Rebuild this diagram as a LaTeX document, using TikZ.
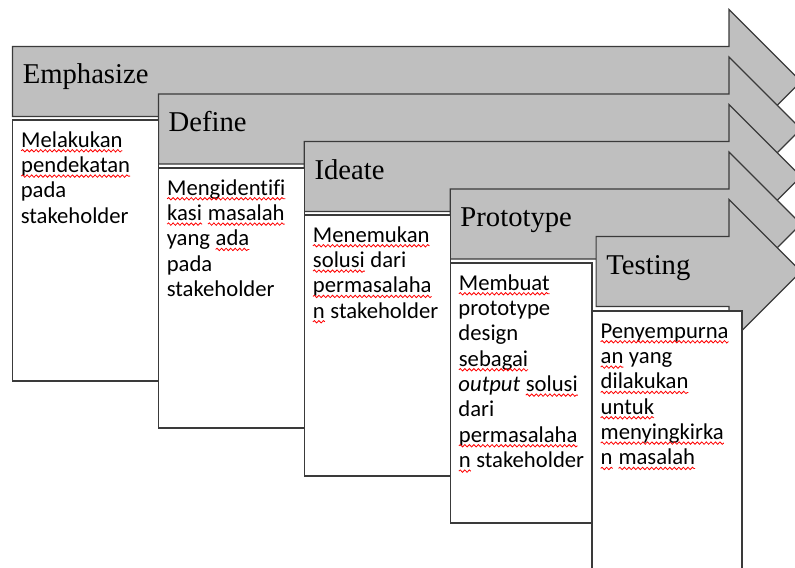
\documentclass[tikz,border=0pt]{standalone}
\usepackage{fontspec}
\setmainfont[Ligatures=NoCommon]{Carlito}
\newfontfamily\headfont{Liberation Serif}
\usetikzlibrary{decorations.pathmorphing}

% red wavy underline of the spell checker
\newcommand\typo[1]{\tikz[baseline=(w.base)]{\node[inner sep=0pt,outer sep=0pt] (w) {#1};
    \draw[typoline] ([yshift=-2.6pt]w.base west) -- ([yshift=-2.6pt]w.base east);}}

\definecolor{arrowgray}{HTML}{BFBFBF}
\definecolor{edgegray}{HTML}{3A3A3A}

\tikzset{
  stagearrow/.style={draw=edgegray, fill=arrowgray, line width=0.9pt, line join=miter},
  stagebox/.style={draw=edgegray, fill=white, line width=0.9pt},
  headtext/.style={anchor=base west, inner sep=0pt, font=\headfont\fontsize{21.5}{24}\selectfont},
  desctext/.style={anchor=north west, inner sep=0pt, align=left, font=\fontsize{17}{19}\selectfont},
}
\tikzset{typoline/.style={red, line width=0.6pt, decorate, decoration={snake, amplitude=0.9pt, segment length=3.4pt}}}

\begin{document}
\begin{tikzpicture}[x=0.75pt,y=-0.75pt]
\useasboundingbox (0,0) rectangle (795,567);
\foreach \s/\head in {0/Emphasize,1/Define,2/Ideate,3/Prototype,4/Testing} {
    \pgfmathsetmacro\xa{12.5+145.9*\s}
    \pgfmathsetmacro\ya{46.5+47.5*\s}
    \draw[stagearrow] (\xa,\ya) -- (729,\ya) -- (729,\ya-37) -- (801,\ya+35)
        -- (729,\ya+107) -- (729,\ya+70) -- (\xa,\ya+70) -- cycle;
    \node[headtext] (head\s) at (\xa+10,\ya+37.5) {\head};
}
\draw[stagebox] (12.5,120) rectangle (158.4,381);
\draw[stagebox] (158.4,168) rectangle (304.3,428);
\draw[stagebox] (304.3,215) rectangle (450.2,476);
\draw[stagebox] (450.2,263) rectangle (592,523);
\draw[stagebox] (592,311) rectangle (742,600);

% text boxes, first baseline 27px below the box top
\node[desctext] (desc0) at (20.5,129.3) {\strut\typo{Melakukan}\\ \typo{pendekatan}\\ pada\\ stakeholder};
\node[desctext] (desc1) at (166.5,177.3) {\strut\typo{Mengidentifi}\\ \typo{kasi} \typo{masalah}\\ yang \typo{ada}\\ pada\\ stakeholder};
\node[desctext] (desc2) at (312.3,224.3) {\strut\typo{Menemukan}\\ \typo{solusi} dari\\ \typo{permasalaha}\\ \typo{n} stakeholder};
\node[desctext] (desc3) at (458.2,272.3) {\strut\typo{Membuat}\\ prototype\\ design\\ \typo{sebagai}\\ \textit{output} \typo{solusi}\\ dari\\ \typo{permasalaha}\\ \typo{n} stakeholder};
\node[desctext] (desc4) at (600,320.3) {\strut\typo{Penyempurna}\\ \typo{an} yang\\ \typo{dilakukan}\\ \typo{untuk}\\ \typo{menyingkirka}\\ \typo{n} \typo{masalah}};
\end{tikzpicture}
\end{document}
